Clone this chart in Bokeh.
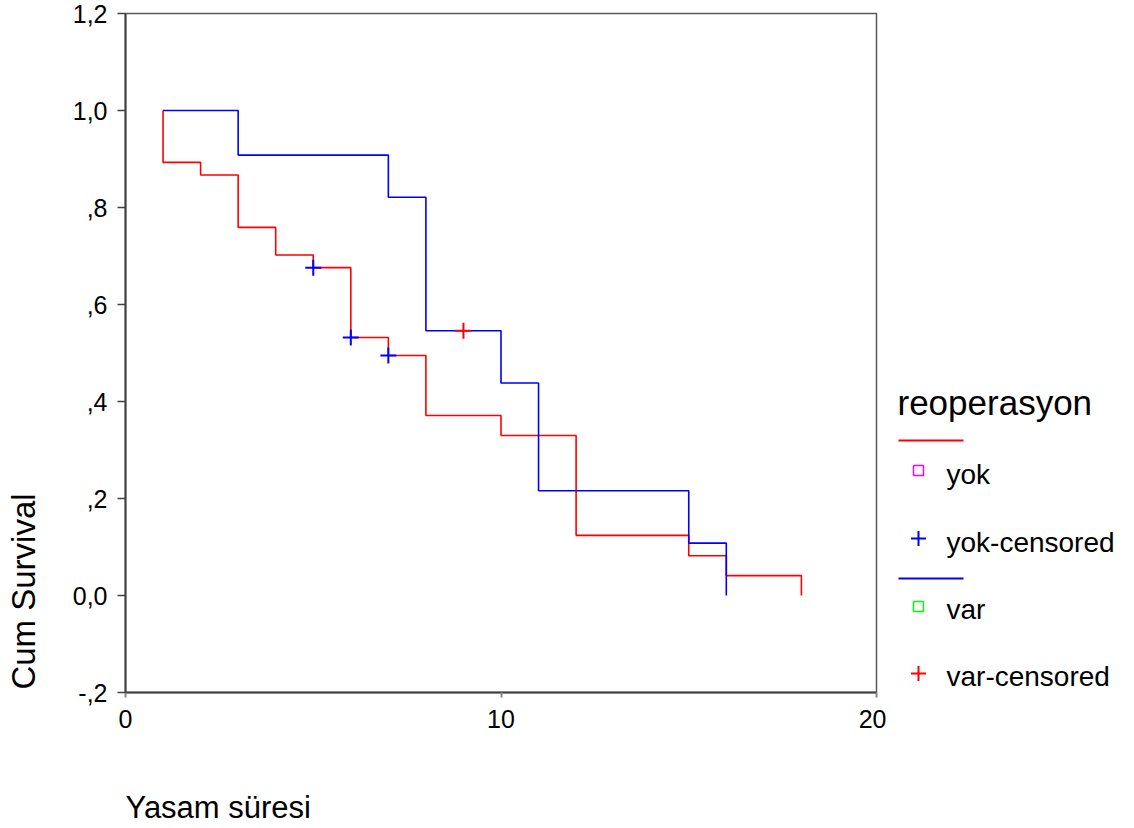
import math
from bokeh.plotting import figure
from bokeh.models import Range1d, FixedTicker, Label
from bokeh.layouts import row, column
from bokeh.embed import file_html
from bokeh.resources import INLINE

# ---- data ----
yok_time = [1, 1, 2, 3, 4, 5, 6, 7, 8, 10, 12, 15, 16, 18]
yok_surv = [1.0, 0.893, 0.867, 0.759, 0.702, 0.676, 0.532, 0.495, 0.371, 0.330, 0.124, 0.082, 0.041, 0.0]
var_time = [1, 3, 7, 8, 10, 11, 15, 16]
var_surv = [1.0, 0.908, 0.821, 0.546, 0.438, 0.216, 0.108, 0.0]
yok_cens_time = [5, 6, 7]
yok_cens_surv = [0.676, 0.532, 0.495]
var_cens_time = [9]
var_cens_surv = [0.546]

x_ticks = [0, 10, 20]
y_ticks = [-0.2, 0, 0.2, 0.4, 0.6, 0.8, 1.0, 1.2]
y_tick_labels = ["-,2", "0,0", ",2", ",4", ",6", ",8", "1,0", "1,2"]

legend_title = "reoperasyon"
legend_labels = ["yok", "yok-censored", "var", "var-censored"]
x_title = "Yasam süresi"
y_title = "Cum Survival"

FONT = "Liberation Sans"
TOP_B = 13      # border above the frame
FRAME_H = 679
BOT_B = 48      # border below the frame (tick labels)
TOP_H = TOP_B + FRAME_H + BOT_B


def blank(width, xr, yr, height=FRAME_H, top=TOP_B, bottom=BOT_B):
    f = figure(output_backend="svg", toolbar_location=None,
               frame_width=width, frame_height=height,
               min_border_left=0, min_border_right=0,
               min_border_top=top, min_border_bottom=bottom,
               x_axis_location=None, y_axis_location=None,
               x_range=xr, y_range=yr)
    f.grid.visible = False
    f.outline_line_color = None
    f.background_fill_color = "white"
    f.border_fill_color = "white"
    return f


# ---- y-axis title panel ----
yfig = blank(60, Range1d(0, 60), Range1d(0, FRAME_H))
yfig.add_layout(Label(x=23, y=(TOP_B + FRAME_H) - 591, text=y_title, angle=math.pi / 2,
                      text_align="center", text_baseline="middle",
                      text_font=FONT, text_font_size="33px", text_color="black"))

# ---- main chart ----
p = figure(output_backend="svg", toolbar_location=None,
           frame_width=751, frame_height=FRAME_H,
           min_border_left=65, min_border_right=10,
           min_border_top=TOP_B, min_border_bottom=BOT_B,
           x_range=Range1d(0, 20), y_range=Range1d(-0.2, 1.2))
p.background_fill_color = "white"
p.border_fill_color = "white"
p.grid.visible = False
p.outline_line_color = "#5a5a5a"
p.outline_line_width = 1.5

for ax in (p.xaxis[0], p.yaxis[0]):
    ax.axis_line_color = "#404040"
    ax.axis_line_width = 2
    ax.major_tick_in = 0
    ax.minor_tick_line_color = None
    ax.major_label_text_font = FONT
    ax.major_label_text_font_size = "25px"
    ax.major_label_text_color = "black"

p.xaxis.ticker = FixedTicker(ticks=x_ticks)
p.xaxis.major_tick_out = 5
p.xaxis.major_tick_line_color = "#888888"
p.xaxis.major_tick_line_width = 2
p.xaxis.major_label_standoff = 12

p.yaxis.ticker = FixedTicker(ticks=y_ticks)
p.yaxis.major_label_overrides = {t: l for t, l in zip(y_ticks, y_tick_labels)}
p.yaxis.major_tick_out = 8
p.yaxis.major_tick_line_color = "#404040"
p.yaxis.major_tick_line_width = 1.5
p.yaxis.major_label_standoff = 10

# survival curves
p.step(yok_time, yok_surv, mode="after", line_color="#ff0000", line_width=1.6)
p.step(var_time, var_surv, mode="after", line_color="#0000ff", line_width=1.6)
# censored markers
p.scatter(yok_cens_time, yok_cens_surv, marker="cross", size=16,
          line_color="#0000ff", line_width=2)
p.scatter(var_cens_time, var_cens_surv, marker="cross", size=16,
          line_color="#ff0000", line_width=2)

# ---- legend panel (page pixel coordinates, y downwards) ----
lg = blank(240, Range1d(886, 1126), Range1d(TOP_B + FRAME_H, TOP_B))
lg.add_layout(Label(x=897, y=402, text=legend_title, text_align="left",
                    text_baseline="middle", text_font=FONT,
                    text_font_size="35px", text_color="black"))
lg.line([898, 963], [440, 440], line_color="#ff0000", line_width=2)
lg.line([898, 963], [578, 578], line_color="#0000ff", line_width=2)
lg.scatter([918], [470], marker="square", size=10, fill_color=None,
           line_color="#ff00ff", line_width=1.5)
lg.scatter([918], [538], marker="cross", size=15, line_color="#0000ff", line_width=2)
lg.scatter([918], [606], marker="square", size=10, fill_color=None,
           line_color="#00ff00", line_width=1.5)
lg.scatter([918], [673], marker="cross", size=15, line_color="#ff0000", line_width=2)
for txt, ym in zip(legend_labels, [474, 542, 609, 676]):
    lg.add_layout(Label(x=946, y=ym, text=txt, text_align="left",
                        text_baseline="middle", text_font=FONT,
                        text_font_size="28px", text_color="black"))

# ---- x-axis title panel ----
BOT_H = 86
xfig = blank(1126, Range1d(0, 1126), Range1d(TOP_H + BOT_H, TOP_H),
             height=BOT_H, top=0, bottom=0)
xfig.add_layout(Label(x=125, y=807, text=x_title, text_align="left",
                      text_baseline="middle", text_font=FONT,
                      text_font_size="31px", text_color="black"))

layout = column(row(yfig, p, lg), xfig)
open("out.html", "w").write(file_html(layout, INLINE))
